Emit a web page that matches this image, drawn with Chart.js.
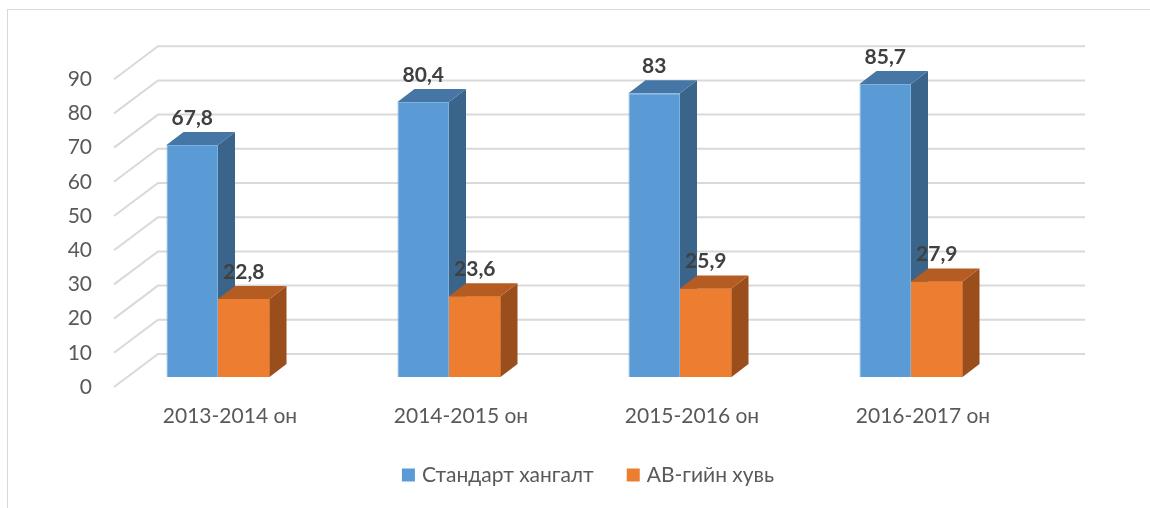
<!DOCTYPE html>
<html>
<head>
<meta charset="utf-8">
<script src="https://cdn.jsdelivr.net/npm/chart.js@4"></script>
<style>
  body { margin: 0; background: #fff; }
</style>
</head>
<body>
<canvas id="chart" width="1150" height="508"></canvas>
<script>
const categories = ['2013-2014 он', '2014-2015 он', '2015-2016 он', '2016-2017 он'];
const seriesNames = ['Стандарт хангалт', 'АВ-гийн хувь'];
const standardValues = [67.8, 80.4, 83, 85.7];
const abValues = [22.8, 23.6, 25.9, 27.9];
const yTicks = [0, 10, 20, 30, 40, 50, 60, 70, 80, 90];

const frontColors = ['#5b9bd5', '#ed7d31'];
const sideColors = ['#3a6489', '#9a4e1c'];
const topColors = ['#4676a6', '#b45c21'];

// 3D depth of the bars and of the back wall
const DEPTH = { dx: 17, dy: -13 };
const WALL = { dx: 44, dy: -33, front: 10 };
const FONT = 'Lato, "Open Sans", sans-serif';

const fmt = v => String(v).replace('.', ',');

const threeD = {
    id: 'threeD',
    beforeDatasetsDraw(chart) {
        const ctx = chart.ctx;
        const y = chart.scales.y;
        const x = chart.scales.x;
        const left = 114, backLeft = left + WALL.dx, backRight = 1085;

        ctx.save();
        // outer frame
        ctx.strokeStyle = '#d9d9d9';
        ctx.lineWidth = 1;
        ctx.strokeRect(7.5, 9.5, 1160, 520);

        // side wall diagonals + back wall grid
        ctx.strokeStyle = '#d9d9d9';
        ctx.lineWidth = 2;
        yTicks.forEach(v => {
            const py = y.getPixelForValue(v);
            ctx.beginPath();
            ctx.moveTo(left, py + WALL.front);
            ctx.lineTo(backLeft, py + WALL.front + WALL.dy);
            ctx.lineTo(backRight, py + WALL.front + WALL.dy);
            ctx.stroke();
        });

        // tick labels
        ctx.fillStyle = '#595959';
        ctx.font = '21px ' + FONT;
        ctx.textAlign = 'right';
        ctx.textBaseline = 'middle';
        yTicks.forEach(v => {
            ctx.fillText(String(v), 92, y.getPixelForValue(v) + WALL.front);
        });

        // category labels
        ctx.textAlign = 'center';
        categories.forEach((c, i) => {
            ctx.fillText(c, x.getPixelForValue(i) + 12, y.getPixelForValue(0) + 39);
        });

        // legend
        const gap = 33, box = 13, pad = 7;
        const widths = seriesNames.map(n => box + pad + ctx.measureText(n).width);
        const total = widths[0] + widths[1] + gap;
        let lx = 588 - total / 2;
        const ly = 475;
        ctx.textAlign = 'left';
        seriesNames.forEach((n, i) => {
            ctx.fillStyle = frontColors[i];
            ctx.fillRect(lx, ly - 6.5, box, box);
            ctx.fillStyle = '#595959';
            ctx.fillText(n, lx + box + pad, ly);
            lx += widths[i] + gap;
        });
        ctx.restore();
    },
    afterDatasetsDraw(chart) {
        const ctx = chart.ctx;
        ctx.save();
        // faces go left to right: the orange front must cover the blue side
        chart.data.datasets.forEach((ds, i) => {
            chart.getDatasetMeta(i).data.forEach(bar => {
                if (i > 0) bar.draw(ctx);
                const p = bar.getProps(['x', 'y', 'base', 'width'], true);
                const l = p.x - p.width / 2, r = p.x + p.width / 2;
                // side face
                ctx.fillStyle = sideColors[i];
                ctx.beginPath();
                ctx.moveTo(r, p.y);
                ctx.lineTo(r + DEPTH.dx, p.y + DEPTH.dy);
                ctx.lineTo(r + DEPTH.dx, p.base + DEPTH.dy);
                ctx.lineTo(r, p.base);
                ctx.closePath();
                ctx.fill();
                // top face
                ctx.fillStyle = topColors[i];
                ctx.beginPath();
                ctx.moveTo(l, p.y);
                ctx.lineTo(l + DEPTH.dx, p.y + DEPTH.dy);
                ctx.lineTo(r + DEPTH.dx, p.y + DEPTH.dy);
                ctx.lineTo(r, p.y);
                ctx.closePath();
                ctx.fill();
            });
        });

        // value labels
        ctx.fillStyle = '#404040';
        ctx.font = 'bold 21px ' + FONT;
        ctx.textAlign = 'center';
        ctx.textBaseline = 'middle';
        chart.data.datasets.forEach((ds, i) => {
            chart.getDatasetMeta(i).data.forEach((bar, j) => {
                const p = bar.getProps(['x', 'y'], true);
                ctx.fillText(fmt(ds.data[j]), p.x, p.y + DEPTH.dy - 14);
            });
        });
        ctx.restore();
    }
};

new Chart(document.getElementById('chart'), {
    type: 'bar',
    data: {
        labels: categories,
        datasets: [
            {
                label: seriesNames[0],
                data: standardValues,
                backgroundColor: frontColors[0],
                borderColor: '#7fb1df',
                borderWidth: 1,
                categoryPercentage: 0.446,
                barPercentage: 1
            },
            {
                label: seriesNames[1],
                data: abValues,
                backgroundColor: frontColors[1],
                borderWidth: 0,
                categoryPercentage: 0.446,
                barPercentage: 1
            }
        ]
    },
    options: {
        responsive: false,
        animation: false,
        layout: { padding: { left: 102.5, right: 123.5, top: 69.2, bottom: 131 } },
        plugins: { legend: { display: false }, tooltip: { enabled: false } },
        scales: {
            x: { display: false },
            y: { display: false, min: 0, max: 90 }
        }
    },
    plugins: [threeD]
});
</script>
</body>
</html>
